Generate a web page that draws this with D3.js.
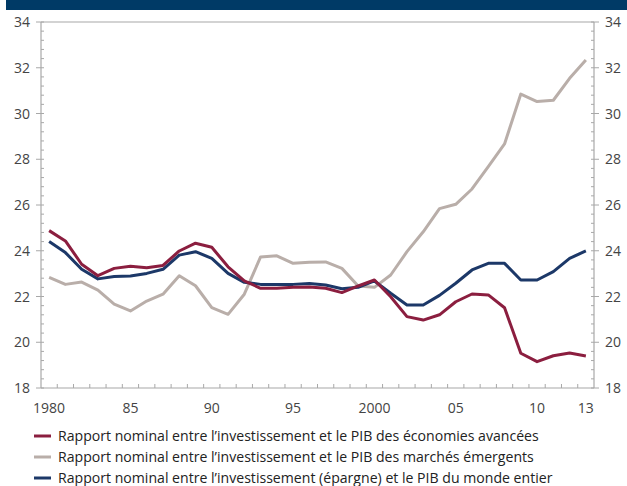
<!DOCTYPE html>
<html><head><meta charset="utf-8">
<script src="https://cdn.jsdelivr.net/npm/d3@7"></script>
<style>
html,body{margin:0;padding:0;background:#fff;}
svg{display:block;font-family:"Open Sans","DejaVu Sans",sans-serif;}
</style></head>
<body><svg id="c" width="627" height="486"></svg>
<script>
const years = d3.range(1980, 2014);
const xTickLabels = ["1980","85","90","95","2000","05","10","13"];
const xTickYears = [1980,1985,1990,1995,2000,2005,2010,2013];
const yTicks = [18,20,22,24,26,28,30,32,34];

const advanced = [24.88,24.43,23.41,22.91,23.23,23.32,23.26,23.36,23.99,24.33,24.15,23.3,22.68,22.36,22.36,22.4,22.41,22.36,22.17,22.46,22.72,21.99,21.12,20.97,21.2,21.77,22.11,22.07,21.51,19.52,19.15,19.41,19.53,19.4];
const emerging = [22.84,22.53,22.63,22.28,21.67,21.37,21.8,22.1,22.91,22.47,21.51,21.22,22.1,23.73,23.78,23.45,23.5,23.51,23.23,22.46,22.4,22.94,23.96,24.83,25.84,26.03,26.7,27.68,28.67,30.85,30.52,30.58,31.54,32.34];
const world = [24.4,23.92,23.19,22.77,22.87,22.9,23.01,23.19,23.81,23.96,23.67,23.01,22.62,22.53,22.53,22.53,22.57,22.5,22.34,22.4,22.68,22.14,21.63,21.63,22.05,22.58,23.16,23.45,23.45,22.72,22.72,23.09,23.67,23.99];

const seriesNames = [
 "Rapport nominal entre l\u2019investissement et le PIB des \u00e9conomies avanc\u00e9es",
 "Rapport nominal entre l\u2019investissement et le PIB des march\u00e9s \u00e9mergents",
 "Rapport nominal entre l\u2019investissement (\u00e9pargne) et le PIB du monde entier"
];
const seriesColors = ["#8b1e3f","#b9aea9","#1c3868"];
const seriesData = [advanced, emerging, world];

const svg = d3.select("#c");
const L = 41, R = 594, T = 22, B = 388;

svg.append("rect").attr("x",6).attr("y",0).attr("width",621).attr("height",10).attr("fill","#003a66");

const x = d3.scalePoint().domain(years).range([L,R]).padding(0.5);
const y = d3.scaleLinear().domain([18,34]).range([B,T]);
const step = x.step();
const axisColor = "#a8a8a8";
const textColor = "#444";

svg.append("line").attr("x1",L).attr("x2",R).attr("y1",T).attr("y2",T).attr("stroke",axisColor).attr("stroke-width",1.2);
svg.append("line").attr("x1",L).attr("x2",R).attr("y1",B).attr("y2",B).attr("stroke",axisColor).attr("stroke-width",1.2);

const minorTicks = d3.range(0,41).map(i => 18 + i*0.4).filter(v => Math.abs(v/2 - Math.round(v/2))>1e-6);
function vAxis(xp, dir){
  const g = svg.append("g");
  g.append("line").attr("x1",xp).attr("x2",xp).attr("y1",T).attr("y2",B).attr("stroke",axisColor).attr("stroke-width",1.2);
  g.selectAll("line.mn").data(minorTicks).join("line").attr("class","mn")
    .attr("x1",xp).attr("x2",xp - dir*3).attr("y1",d=>y(d)).attr("y2",d=>y(d)).attr("stroke",axisColor);
  g.selectAll("line.mj").data(yTicks).join("line").attr("class","mj")
    .attr("x1",xp + dir*5).attr("x2",xp - dir*3).attr("y1",d=>y(d)).attr("y2",d=>y(d)).attr("stroke",axisColor);
  g.selectAll("text").data(yTicks).join("text")
    .attr("x", xp + dir*11).attr("y", d=>y(d)).attr("dy","0.36em")
    .attr("text-anchor", dir<0 ? "end" : "start")
    .attr("font-size",14).attr("fill",textColor).text(d=>d);
}
vAxis(L,-1);
vAxis(R,1);

const bounds = d3.range(1, years.length).map(i => L + i*step);
svg.append("g").selectAll("line").data(bounds).join("line")
  .attr("x1",d=>d).attr("x2",d=>d).attr("y1",B).attr("y2",B-4).attr("stroke",axisColor);

svg.append("g").selectAll("text").data(xTickYears).join("text")
  .attr("x",d=>x(d)).attr("y",B+20).attr("dy","0.36em").attr("text-anchor","middle")
  .attr("font-size",14).attr("fill",textColor)
  .text((d,i)=>xTickLabels[i]);

const line = d3.line().x((d,i)=>x(years[i])).y(d=>y(d));
[1,2,0].forEach(k => {
  svg.append("path").datum(seriesData[k]).attr("d",line).attr("fill","none")
    .attr("stroke",seriesColors[k]).attr("stroke-width",3).attr("stroke-linejoin","round");
});

const lg = svg.append("g");
seriesNames.forEach((n,i) => {
  const yy = 436 + i*21;
  lg.append("line").attr("x1",34).attr("x2",51).attr("y1",yy).attr("y2",yy)
    .attr("stroke",seriesColors[i]).attr("stroke-width",3);
  lg.append("text").attr("x",58).attr("y",yy).attr("dy","0.36em")
    .attr("font-size",14.1).attr("fill","#222").text(n);
});
</script></body></html>
